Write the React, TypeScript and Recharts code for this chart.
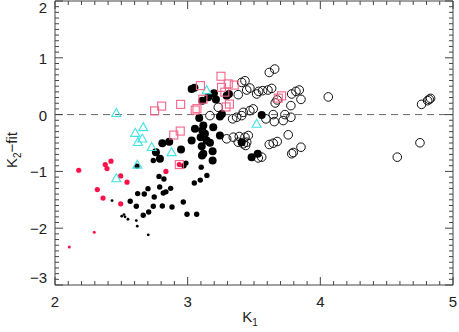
import { ReferenceArea, ReferenceLine, Scatter, ScatterChart, XAxis, YAxis } from "recharts";

// open black circles
const openCircles = [
  { x: 3.381, y: 0.351 }, { x: 3.407, y: 0.567 }, { x: 3.432, y: 0.596 }, { x: 3.445, y: 0.433 },
  { x: 3.469, y: 0.468 }, { x: 3.52, y: 0.363 }, { x: 3.535, y: 0.409 }, { x: 3.565, y: 0.421 },
  { x: 3.605, y: 0.433 }, { x: 3.633, y: 0.461 }, { x: 3.615, y: 0.742 }, { x: 3.656, y: 0.802 },
  { x: 3.66, y: 0.205 }, { x: 3.675, y: 0.258 }, { x: 3.784, y: 0.363 }, { x: 3.816, y: 0.409 },
  { x: 3.841, y: 0.433 }, { x: 3.854, y: 0.268 }, { x: 3.778, y: 0.158 }, { x: 4.06, y: 0.311 },
  { x: 4.763, y: 0.181 }, { x: 4.809, y: 0.246 }, { x: 4.821, y: 0.268 }, { x: 4.831, y: 0.286 },
  { x: 3.231, y: 0.128 }, { x: 3.419, y: 0.04 }, { x: 3.469, y: 0.07 }, { x: 3.494, y: 0.1 },
  { x: 3.168, y: -0.018 }, { x: 3.369, y: -0.047 }, { x: 3.407, y: -0.018 }, { x: 3.339, y: -0.075 },
  { x: 3.645, y: 0.0 }, { x: 3.733, y: 0.0 }, { x: 3.59, y: -0.075 }, { x: 3.653, y: -0.123 },
  { x: 3.72, y: -0.105 }, { x: 3.778, y: -0.047 }, { x: 3.758, y: -0.356 }, { x: 3.294, y: -0.426 },
  { x: 3.344, y: -0.398 }, { x: 3.389, y: -0.386 }, { x: 3.432, y: -0.398 }, { x: 3.457, y: -0.368 },
  { x: 3.381, y: -0.486 }, { x: 3.419, y: -0.514 }, { x: 3.445, y: -0.486 }, { x: 3.437, y: -0.544 },
  { x: 3.615, y: -0.526 }, { x: 3.645, y: -0.504 }, { x: 3.675, y: -0.474 }, { x: 3.854, y: -0.574 },
  { x: 3.784, y: -0.689 }, { x: 3.796, y: -0.667 }, { x: 3.558, y: -0.749 }, { x: 3.532, y: -0.763 },
  { x: 4.751, y: -0.496 }, { x: 4.58, y: -0.749 },
];

// large filled black circles
const bigDots = [
  { x: 3.03, y: 0.451 }, { x: 3.051, y: 0.474 }, { x: 3.11, y: 0.246 }, { x: 3.155, y: 0.304 },
  { x: 3.198, y: 0.374 }, { x: 3.213, y: 0.268 }, { x: 3.294, y: 0.333 }, { x: 3.311, y: 0.363 },
  { x: 3.258, y: 0.012 }, { x: 3.243, y: -0.035 }, { x: 3.087, y: -0.058 }, { x: 3.055, y: -0.251 },
  { x: 3.118, y: -0.193 }, { x: 3.11, y: -0.281 }, { x: 3.13, y: -0.339 }, { x: 3.098, y: -0.398 },
  { x: 3.193, y: -0.223 }, { x: 3.03, y: -0.456 }, { x: 3.143, y: -0.456 }, { x: 3.243, y: -0.368 },
  { x: 3.106, y: -0.556 }, { x: 3.168, y: -0.496 }, { x: 3.407, y: -0.486 }, { x: 2.95, y: -0.614 },
  { x: 2.861, y: -0.479 }, { x: 2.809, y: -0.504 }, { x: 3.188, y: -0.644 }, { x: 3.108, y: -0.719 },
  { x: 3.118, y: -0.689 }, { x: 2.761, y: -0.661 }, { x: 2.791, y: -0.777 }, { x: 3.558, y: -0.005 },
  { x: 3.528, y: -0.689 }, { x: 3.482, y: -0.749 }, { x: 3.188, y: -0.807 },
];

// medium filled black circles
const midDots = [
  { x: 2.741, y: -0.807 }, { x: 2.794, y: -0.784 }, { x: 2.618, y: -0.907 }, { x: 2.784, y: -1.088 },
  { x: 2.821, y: -1.135 }, { x: 2.701, y: -1.304 }, { x: 2.789, y: -1.275 }, { x: 2.623, y: -1.391 },
  { x: 2.673, y: -1.398 }, { x: 2.748, y: -1.451 }, { x: 2.816, y: -1.381 }, { x: 2.836, y: -1.36 },
  { x: 2.872, y: -1.298 }, { x: 2.567, y: -1.526 }, { x: 2.613, y: -1.614 }, { x: 2.741, y: -1.614 },
  { x: 2.809, y: -1.609 }, { x: 2.882, y: -1.626 }, { x: 2.706, y: -1.714 }, { x: 2.665, y: -1.772 },
  { x: 2.967, y: -1.539 }, { x: 2.995, y: -1.754 }, { x: 3.068, y: -1.754 }, { x: 3.05, y: -1.205 },
  { x: 3.095, y: -1.153 }, { x: 3.145, y: -1.07 }, { x: 3.102, y: -0.925 }, { x: 2.987, y: -0.854 },
  { x: 2.972, y: -0.9 },
];

// small black dots
const smallDots = [
  { x: 2.43, y: -1.514 }, { x: 2.503, y: -1.789 }, { x: 2.52, y: -1.76 }, { x: 2.528, y: -1.8 },
  { x: 2.55, y: -1.842 }, { x: 2.613, y: -1.865 }, { x: 2.62, y: -1.965 }, { x: 2.703, y: -2.117 },
];

// red filled dots
const redDots = [
  { x: 2.179, y: -0.98 }, { x: 2.319, y: -1.32 }, { x: 2.362, y: -1.47 }, { x: 2.422, y: -0.82 },
  { x: 2.379, y: -0.88 }, { x: 2.392, y: -0.95 }, { x: 2.495, y: -1.08 }, { x: 2.543, y: -1.19 },
  { x: 2.495, y: -1.57 }, { x: 2.836, y: -1.0 }, { x: 2.937, y: -0.88 },
];
const redSmall = [{ x: 2.296, y: -2.07 }, { x: 2.108, y: -2.33 }];

// cyan open triangles
const triangles = [
  { x: 2.462, y: 0.02 }, { x: 2.665, y: -0.23 }, { x: 2.605, y: -0.33 }, { x: 2.658, y: -0.43 },
  { x: 2.625, y: -0.49 }, { x: 2.729, y: -0.58 }, { x: 2.879, y: -0.67 }, { x: 3.143, y: 0.42 },
  { x: 3.52, y: -0.17 }, { x: 2.62, y: -0.89 }, { x: 2.462, y: -1.13 },
];

// pink open squares
const squares = [
  { x: 2.751, y: 0.065 }, { x: 2.804, y: 0.15 }, { x: 2.947, y: 0.18 }, { x: 3.057, y: 0.08 },
  { x: 3.07, y: 0.105 }, { x: 3.096, y: 0.51 }, { x: 3.115, y: 0.27 }, { x: 3.251, y: 0.675 },
  { x: 3.255, y: 0.48 }, { x: 3.306, y: 0.54 }, { x: 3.351, y: 0.52 }, { x: 3.28, y: 0.395 },
  { x: 3.315, y: 0.185 }, { x: 3.289, y: 0.135 }, { x: 2.895, y: -0.36 }, { x: 2.944, y: -0.29 },
  { x: 3.708, y: 0.33 }, { x: 3.683, y: 0.29 }, { x: 2.937, y: -0.88 },
];

const xMajor = [2, 3, 4, 5];
const yMajor = [-3, -2, -1, 0, 1, 2];

const minorTicks = (lo: number, hi: number) => {
  const out: number[] = [];
  for (let i = lo * 10; i <= hi * 10; i++) out.push(i / 10);
  return out;
};
const xTicks = minorTicks(2, 5);
const yTicks = minorTicks(-3, 2);

const W = 459;
const H = 332;
const MARGIN = { top: 1, right: 6, bottom: 0, left: 0 };
const PLOT_TOP = MARGIN.top;
const PLOT_RIGHT = W - MARGIN.right;
const AXIS = "#444";
const FONT = "Liberation Sans, DejaVu Sans, sans-serif";

const isMajor = (v: number, majors: number[]) => majors.some((m) => Math.abs(m - v) < 1e-6);
const fmt = (v: number) => String(Math.round(v)).replace("-", "\u2212");

const XTick = (props: any) => {
  const { x, y, payload } = props;
  const major = isMajor(payload.value, xMajor);
  const len = major ? 8 : 4;
  return (
    <g>
      <line x1={x} y1={y} x2={x} y2={y - len} stroke={AXIS} />
      <line x1={x} y1={PLOT_TOP} x2={x} y2={PLOT_TOP + len} stroke={AXIS} />
      {major && (
        <text x={x} y={y + 22} textAnchor="middle" fontSize={15} fill="#222" fontFamily={FONT}>
          {fmt(payload.value)}
        </text>
      )}
    </g>
  );
};

const YTick = (props: any) => {
  const { x, y, payload } = props;
  const v = payload.value;
  const major = isMajor(v, yMajor);
  const len = major ? 8 : 4;
  let base = y + 6;
  if (Math.abs(v - 2) < 1e-6) base = y + 12;
  if (Math.abs(v + 3) < 1e-6) base = y - 2;
  return (
    <g>
      <line x1={x} y1={y} x2={x + len} y2={y} stroke={AXIS} />
      <line x1={PLOT_RIGHT} y1={y} x2={PLOT_RIGHT - len} y2={y} stroke={AXIS} />
      {major && (
        <text x={x - 8} y={base} textAnchor="end" fontSize={15} fill="#222" fontFamily={FONT}>
          {fmt(v)}
        </text>
      )}
    </g>
  );
};

const openCircle = (p: any) => <circle cx={p.cx} cy={p.cy} r={4.3} fill="none" stroke="#111" strokeWidth={1} />;
const dot = (r: number, color: string) => (p: any) => <circle cx={p.cx} cy={p.cy} r={r} fill={color} />;
const triangle = (p: any) => (
  <polygon
    points={`${p.cx},${p.cy - 5} ${p.cx - 4.5},${p.cy + 3} ${p.cx + 4.5},${p.cy + 3}`}
    fill="none"
    stroke="#3fe3e6"
    strokeWidth={1.1}
  />
);
const square = (p: any) => (
  <rect x={p.cx - 4} y={p.cy - 4} width={8} height={8} fill="none" stroke="#f5658a" strokeWidth={1.1} />
);

const XLabel = (props: any) => {
  const vb = props.viewBox;
  const cx = vb.x + vb.width / 2;
  return (
    <text x={cx - 4} y={322} fontSize={15} fill="#222" fontFamily={FONT} textAnchor="middle">
      K<tspan fontSize={10} dy={4}>1</tspan>
    </text>
  );
};

const YLabel = () => (
  <text
    x={0}
    y={0}
    transform="translate(17,150) rotate(-90)"
    fontSize={15}
    fill="#222"
    fontFamily={FONT}
    textAnchor="middle"
  >
    K<tspan fontSize={10} dy={4}>2</tspan>
    <tspan dy={-4}>{"\u2212fit"}</tspan>
  </text>
);

export default function App() {
  return (
    <div style={{ position: "absolute", left: 0, top: 0, background: "#fff" }}>
      <ScatterChart width={W} height={H} margin={MARGIN}>
        <XAxis
          type="number"
          dataKey="x"
          domain={[2, 5]}
          ticks={xTicks}
          interval={0}
          tickSize={0}
          tickMargin={0}
          axisLine={false}
          tickLine={false}
          tick={XTick}
          height={47}
          allowDataOverflow
          label={{ content: XLabel }}
        />
        <YAxis
          type="number"
          dataKey="y"
          domain={[-3, 2]}
          ticks={yTicks}
          interval={0}
          tickSize={0}
          tickMargin={0}
          axisLine={false}
          tickLine={false}
          tick={YTick}
          width={55}
          allowDataOverflow
          label={{ content: YLabel }}
        />
        <ReferenceArea x1={2} x2={5} y1={-3} y2={2} fill="none" fillOpacity={0} stroke={AXIS} strokeWidth={1} />
        <ReferenceLine y={0} stroke="#666" strokeDasharray="7 5" />
        <Scatter data={openCircles} shape={openCircle} isAnimationActive={false} />
        <Scatter data={bigDots} shape={dot(4, "#000")} isAnimationActive={false} />
        <Scatter data={midDots} shape={dot(2.7, "#000")} isAnimationActive={false} />
        <Scatter data={smallDots} shape={dot(1.4, "#000")} isAnimationActive={false} />
        <Scatter data={redDots} shape={dot(2.6, "#ff1048")} isAnimationActive={false} />
        <Scatter data={redSmall} shape={dot(1.5, "#ff1048")} isAnimationActive={false} />
        <Scatter data={triangles} shape={triangle} isAnimationActive={false} />
        <Scatter data={squares} shape={square} isAnimationActive={false} />
      </ScatterChart>
    </div>
  );
}
